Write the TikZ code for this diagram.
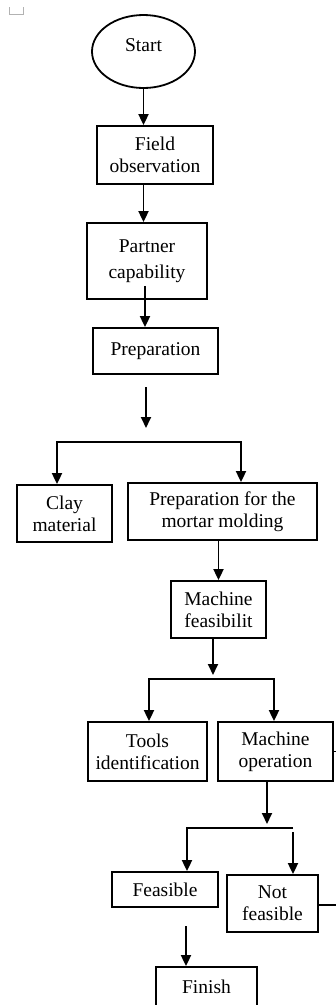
\documentclass[tikz,border=0pt]{standalone}
\usepackage{fontspec}
\setmainfont{Liberation Serif}
\usetikzlibrary{arrows.meta,shapes.geometric,calc}
\begin{document}
\begin{tikzpicture}[x=1pt,y=-1pt,
  line width=1.8pt,
  txt/.style={font=\fontsize{19.5}{22}\selectfont},
  box/.style={draw, rectangle, align=center, inner sep=1pt, txt},
  oval/.style={draw, ellipse, inner sep=0pt, txt},
  tip/.tip={Triangle[width=10pt,length=11pt]},
  arr/.style={-tip},
  arrtwo/.style={tip-tip},
]
\useasboundingbox (0,0) rectangle (336,1005);
\clip (0,0) rectangle (336,1005);

% stray mark top-left
\draw[line width=0.8pt, black!30] (9,7) -- (9,14) -- (23,14) -- (23,7);

% nodes
\node[oval, minimum width=103pt, minimum height=73pt,
      label={[txt, yshift=6pt]center:Start}] (start) at (143.5,51.5) {};
\node[box, minimum width=116pt, minimum height=58pt] (field) at (155,155) {Field\\observation};
\node[box, minimum width=120pt, minimum height=76pt] (partner) at (147,261) {Partner\\[4pt]capability};
\node[box, minimum width=125pt, minimum height=46pt] (prep) at (155.5,351) {Preparation};
\node[box, minimum width=95pt, minimum height=57pt] (clay) at (64.5,513.5) {Clay\\material};
\node[box, minimum width=189pt, minimum height=57pt] (mortar) at (222.5,511.5) {Preparation for the\\mortar molding};
\node[box, minimum width=95pt, minimum height=57pt] (machfeas) at (218.5,609.5) {Machine\\feasibilit};
\node[box, minimum width=119pt, minimum height=59pt] (tools) at (147.5,751.5) {Tools\\identification};
\node[box, minimum width=115pt, minimum height=59pt] (machop) at (275.5,751.5) {Machine\\operation};
\node[box, minimum width=106pt, minimum height=35pt] (feasible) at (165,889.5) {Feasible};
\node[box, minimum width=91pt, minimum height=57pt] (notfeas) at (272.5,903.5) {Not\\feasible};
\node[box, minimum width=101pt, minimum height=40pt] (finish) at (206.5,987) {Finish};

% coordinates
\coordinate (a1) at (146,387);
\coordinate (a2) at (146,428);
\coordinate (bL) at (57,442);
\coordinate (bR) at (241,442);
\coordinate (cL) at (149,679);
\coordinate (cR) at (274,679);
\coordinate (dL) at (187,828);
\coordinate (dR) at (293,828);
\coordinate (dR2) at (293,832);
\coordinate (f1) at (186,926);
\coordinate (edgeA) at (345,751.5);
\coordinate (edgeB) at (345,905);

% connectors
\draw[arr] (start.south) -- (start.south |- field.north);
\draw[arr] (start.south |- field.south) -- (start.south |- partner.north);
\draw[arr] ([xshift=-2pt,yshift=14pt]partner.south) -- ([xshift=-2pt]partner.south |- prep.north);
\draw[arr] (a1) -- (a2);
\draw[arrtwo] (bL |- clay.north) -- (bL) -- (bR) -- (bR |- mortar.north);
\draw[arr] (machfeas.north |- mortar.south) -- (machfeas.north);
\draw[arr] ([xshift=-5.5pt]machfeas.south) -- ([xshift=-5.5pt,yshift=4pt]machfeas.south |- cL);
\draw[arrtwo] (cL |- tools.north) -- (cL) -- (cR) -- (cR |- machop.north);
\draw[arr] ([xshift=-8.5pt]machop.south) -- ([xshift=-8.5pt,yshift=4pt]machop.south |- dL);
\draw[arr] (dR) -- (dL) -- (dL |- feasible.north);
\draw[arr] (dR2) -- (dR2 |- notfeas.north);
\draw[arr] (f1) -- (f1 |- finish.north);
\draw (notfeas.east |- edgeB) -- (edgeB);
\draw (machop.east) -- (edgeA);
\end{tikzpicture}
\end{document}
